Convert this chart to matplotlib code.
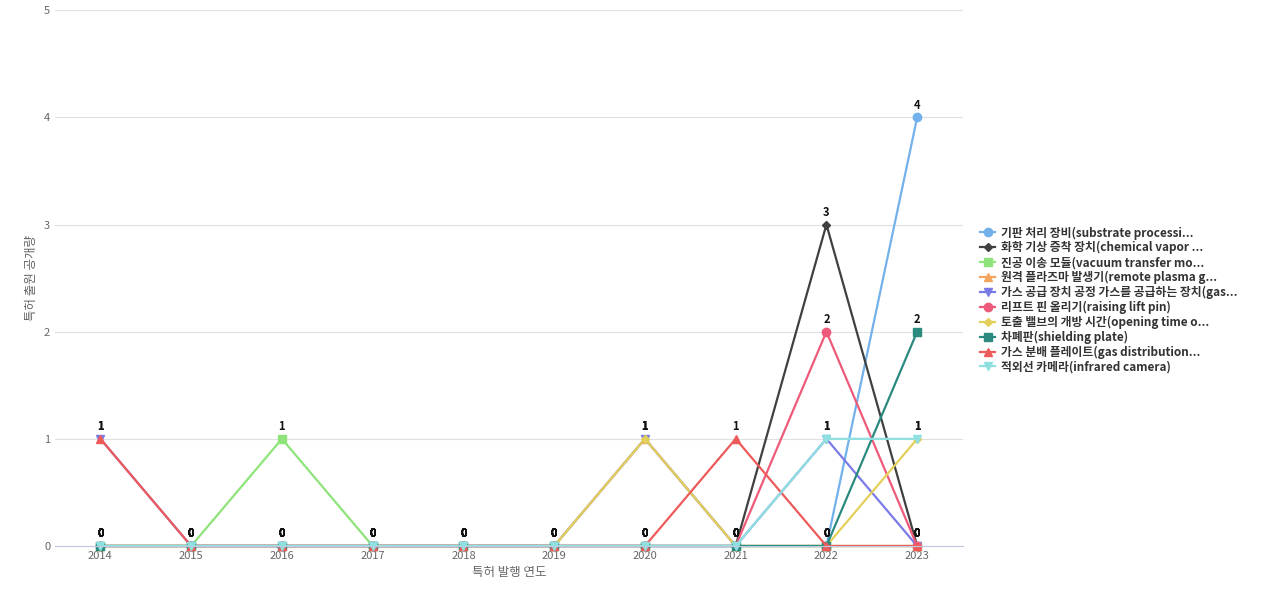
import matplotlib
matplotlib.use("Agg")
import matplotlib.pyplot as plt

plt.rcParams['font.family'] = ['Noto Sans CJK KR', 'DejaVu Sans']

years = [2014, 2015, 2016, 2017, 2018, 2019, 2020, 2021, 2022, 2023]
names = ["기판 처리 장비(substrate processi...", "화학 기상 증착 장치(chemical vapor ...",
         "진공 이송 모듈(vacuum transfer mo...", "원격 플라즈마 발생기(remote plasma g...",
         "가스 공급 장치 공정 가스를 공급하는 장치(gas...", "리프트 핀 올리기(raising lift pin)",
         "토출 밸브의 개방 시간(opening time o...", "차폐판(shielding plate)",
         "가스 분배 플레이트(gas distribution...", "적외선 카메라(infrared camera)"]
substrate = [0, 0, 0, 0, 0, 0, 0, 0, 0, 4]
chemical = [0, 0, 0, 0, 0, 0, 0, 0, 3, 0]
vacuum = [0, 0, 1, 0, 0, 0, 0, 0, 0, 0]
plasma = [0, 0, 0, 0, 0, 0, 1, 0, 0, 0]
gas_supply = [1, 0, 0, 0, 0, 0, 1, 0, 1, 0]
lift_pin = [0, 0, 0, 0, 0, 0, 0, 0, 2, 0]
valve = [0, 0, 0, 0, 0, 0, 1, 0, 0, 1]
shield = [0, 0, 0, 0, 0, 0, 0, 0, 0, 2]
gas_dist = [1, 0, 0, 0, 0, 0, 0, 1, 0, 0]
infrared = [0, 0, 0, 0, 0, 0, 0, 0, 1, 1]
series = [substrate, chemical, vacuum, plasma, gas_supply, lift_pin, valve, shield, gas_dist, infrared]
colors = ["#73b1ec", "#404040", "#8ee47a", "#f4a45c", "#7b7be8", "#ee5a7a", "#e3d05a", "#2a8a80", "#ee5a5a", "#8fe0e0"]
markers = ["o", "D", "s", "^", "v", "o", "D", "s", "^", "v"]

fig = plt.figure(figsize=(12.8, 6.0), dpi=100)
ax = fig.add_axes([0.043, 0.09, 0.709, 0.893])
x = list(range(len(years)))
for s, n, c, m in zip(series, names, colors, markers):
    ax.plot(x, s, color=c, marker=m, markersize=6 if m != "D" else 4.5, linewidth=1.6, label=n)
for s in series:
    for xi, v in zip(x, s):
        ax.annotate(str(v), (xi, v), xytext=(0, 4), textcoords="offset points",
                    ha="center", va="bottom", fontsize=8, color="#111", fontweight="bold")

ax.set_xlim(-0.5, 9.5)
ax.set_ylim(0, 5)
ax.set_xticks(x)
ax.set_xticklabels([str(y) for y in years])
ax.set_yticks(range(6))
ax.tick_params(length=0, labelsize=8, colors="#666")
ax.grid(axis="y", color="#e0e0e0", linewidth=0.8)
ax.set_axisbelow(True)
for sp in ["top", "right", "left"]:
    ax.spines[sp].set_visible(False)
ax.spines["bottom"].set_color("#c0c8e0")
ax.set_xlabel("특허 발행 연도", fontsize=9, color="#666")
ax.set_ylabel("특허 출원 공개량", fontsize=9, color="#666")
ax.set_clip_on(False)
for l in ax.lines:
    l.set_clip_on(False)

leg = fig.legend(loc="center left", bbox_to_anchor=(0.762, 0.5), frameon=False,
                 prop={'size': 8.5, 'weight': 'bold'}, handlelength=1.3, labelspacing=0.15,
                 handletextpad=0.5, borderaxespad=0)
for t in leg.get_texts():
    t.set_color("#333")
fig.savefig("out.png", dpi=100)
